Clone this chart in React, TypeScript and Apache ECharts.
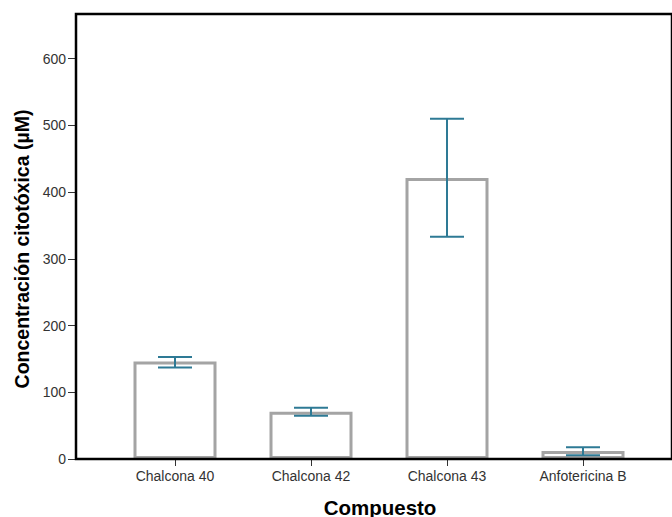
import React, { useEffect, useRef } from "react";
import * as echarts from "echarts";

const categories = ["Chalcona 40", "Chalcona 42", "Chalcona 43", "Anfotericina B"];
const means = [146, 71, 421, 12];
const lowerErr = [137, 65, 333, 5.5];
const upperErr = [153, 77, 510, 17.5];
const yTicks = [0, 100, 200, 300, 400, 500, 600];
const yMax = 667;
const xTitle = "Compuesto";
const yTitle = "Concentración citotóxica (µM)";

export default function App() {
  const ref = useRef<HTMLDivElement>(null);
  useEffect(() => {
    if (!ref.current) return;
    const chart = echarts.init(ref.current, null, { renderer: "svg" });
    const font = "'Liberation Sans', Arial, sans-serif";
    chart.setOption({
      animation: false,
      backgroundColor: "#fff",
      grid: [
        { left: 107, right: 21, top: 14, bottom: 58 },
        {
          left: 76, right: -40, top: 14, bottom: 58, show: true, z: 5,
          backgroundColor: "transparent", borderColor: "#000", borderWidth: 2.5,
        },
      ],
      xAxis: [
        {
          type: "category", gridIndex: 0, data: categories,
          axisLine: { show: false },
          axisTick: { show: true, alignWithLabel: true, length: 7, lineStyle: { color: "#333", width: 1 } },
          axisLabel: { fontFamily: font, fontSize: 14, color: "#333", margin: 10 },
        },
        { type: "value", gridIndex: 1, show: false, min: 0, max: 1 },
      ],
      yAxis: [
        {
          type: "value", gridIndex: 0, min: 0, max: yMax, interval: 100, offset: 31,
          axisLine: { show: false },
          splitLine: { show: false },
          axisTick: { show: true, length: 8, customValues: yTicks, lineStyle: { color: "#333", width: 1 } },
          axisLabel: { fontFamily: font, fontSize: 14, color: "#333", margin: 10, customValues: yTicks },
        },
        { type: "value", gridIndex: 1, show: false, min: 0, max: 1 },
      ],
      series: [
        {
          type: "bar", xAxisIndex: 0, yAxisIndex: 0, data: means, barWidth: 83,
          itemStyle: { color: "#fff", borderColor: "#a4a4a4", borderWidth: 3 },
        },
        {
          type: "custom", xAxisIndex: 0, yAxisIndex: 0, z: 4,
          data: categories.map((_, i) => [i, lowerErr[i], upperErr[i]]),
          renderItem: (params: any, api: any) => {
            const lo = api.coord([api.value(0), api.value(1)]);
            const hi = api.coord([api.value(0), api.value(2)]);
            const hw = 17;
            const style = { stroke: "#2e7a95", lineWidth: 2, fill: "none" };
            return {
              type: "group",
              children: [
                { type: "line", shape: { x1: hi[0], y1: hi[1], x2: lo[0], y2: lo[1] }, style },
                { type: "line", shape: { x1: hi[0] - hw, y1: hi[1], x2: hi[0] + hw, y2: hi[1] }, style },
                { type: "line", shape: { x1: lo[0] - hw, y1: lo[1], x2: lo[0] + hw, y2: lo[1] }, style },
              ],
            };
          },
        },
      ],
      graphic: [
        {
          type: "text", x: 380, y: 507,
          style: { text: xTitle, fontFamily: font, fontWeight: "bold", fontSize: 20.5, fill: "#000", align: "center", verticalAlign: "middle" },
        },
        {
          type: "text", x: 22, y: 249, rotation: Math.PI / 2,
          style: { text: yTitle, fontFamily: font, fontWeight: "bold", fontSize: 19.5, fill: "#000", align: "center", verticalAlign: "middle" },
        },
      ],
    });
    return () => chart.dispose();
  }, []);
  return <div ref={ref} style={{ width: 672, height: 517, position: "absolute", left: 0, top: 0 }} />;
}
